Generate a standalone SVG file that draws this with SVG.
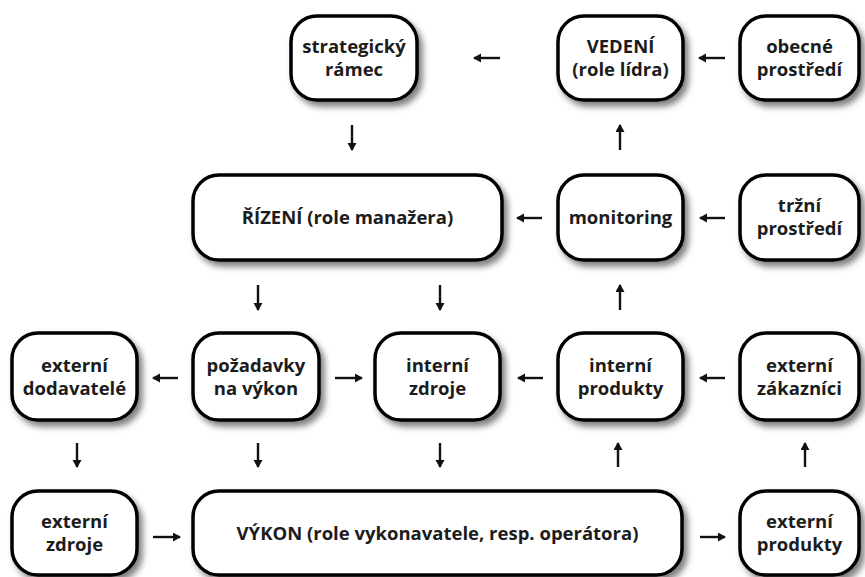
<svg xmlns="http://www.w3.org/2000/svg" width="865" height="577" viewBox="0 0 865 577">
<defs>
<filter id="sh" x="-20%" y="-20%" width="140%" height="150%">
<feDropShadow dx="4" dy="5" stdDeviation="3" flood-color="#000" flood-opacity="0.5"/>
</filter>
<marker id="ah" markerWidth="10" markerHeight="10" refX="7" refY="4.5" orient="auto" markerUnits="userSpaceOnUse">
<path d="M0,0 L8,4.5 L0,9 Z" fill="#111"/>
</marker>
</defs>
<style>
.box{fill:#fff;stroke:#000;stroke-width:3.5;filter:url(#sh)}
.t{font-family:"Open Sans","Noto Sans",sans-serif;font-weight:700;font-size:18.5px;fill:#1c1c1c;text-anchor:middle}
.c line{stroke:#111;stroke-width:2.4;marker-end:url(#ah)}
</style>
<rect width="865" height="577" fill="#fff"/>

<g id="strategicky-ramec"><rect class="box" x="291" y="16" width="126" height="84" rx="26"/><text class="t" x="354" y="52.5">strategický</text><text class="t" x="354" y="75.5">rámec</text></g>
<g id="vedeni"><rect class="box" x="558" y="16" width="125" height="84" rx="26"/><text class="t" x="620.5" y="52.5">VEDENÍ</text><text class="t" x="620.5" y="75.5">(role lídra)</text></g>
<g id="obecne-prostredi"><rect class="box" x="740" y="16" width="119" height="84" rx="26"/><text class="t" x="799.5" y="52.5">obecné</text><text class="t" x="799.5" y="75.5">prostředí</text></g>

<g id="rizeni"><rect class="box" x="193" y="175" width="309" height="85" rx="26"/><text class="t" x="347.5" y="224">ŘÍZENÍ (role manažera)</text></g>
<g id="monitoring"><rect class="box" x="558" y="175" width="125" height="85" rx="26"/><text class="t" x="620.5" y="224">monitoring</text></g>
<g id="trzni-prostredi"><rect class="box" x="740" y="175" width="119" height="85" rx="26"/><text class="t" x="799.5" y="212">tržní</text><text class="t" x="799.5" y="235">prostředí</text></g>

<g id="externi-dodavatele"><rect class="box" x="12" y="333" width="125" height="87" rx="26"/><text class="t" x="74.5" y="371.5">externí</text><text class="t" x="74.5" y="394.5">dodavatelé</text></g>
<g id="pozadavky-na-vykon"><rect class="box" x="193" y="333" width="126" height="87" rx="26"/><text class="t" x="256" y="371.5">požadavky</text><text class="t" x="256" y="394.5">na výkon</text></g>
<g id="interni-zdroje"><rect class="box" x="375" y="333" width="125" height="87" rx="26"/><text class="t" x="437.5" y="371.5">interní</text><text class="t" x="437.5" y="394.5">zdroje</text></g>
<g id="interni-produkty"><rect class="box" x="558" y="333" width="125" height="87" rx="26"/><text class="t" x="620.5" y="371.5">interní</text><text class="t" x="620.5" y="394.5">produkty</text></g>
<g id="externi-zakaznici"><rect class="box" x="740" y="333" width="119" height="87" rx="26"/><text class="t" x="799.5" y="371.5">externí</text><text class="t" x="799.5" y="394.5">zákazníci</text></g>

<g id="externi-zdroje"><rect class="box" x="12" y="491" width="125" height="84" rx="26"/><text class="t" x="74.5" y="528">externí</text><text class="t" x="74.5" y="551">zdroje</text></g>
<g id="vykon"><rect class="box" x="193" y="491" width="489" height="84" rx="26"/><text class="t" x="437.5" y="540">VÝKON (role vykonavatele, resp. operátora)</text></g>
<g id="externi-produkty"><rect class="box" x="740" y="491" width="119" height="84" rx="26"/><text class="t" x="799.5" y="528">externí</text><text class="t" x="799.5" y="551">produkty</text></g>

<g id="connectors" class="c">
<line x1="500" y1="58" x2="474" y2="58"/>
<line x1="725" y1="58" x2="699" y2="58"/>
<line x1="352" y1="125" x2="352" y2="150"/>
<line x1="620" y1="150" x2="620" y2="125"/>
<line x1="542" y1="218" x2="517" y2="218"/>
<line x1="725" y1="218" x2="700" y2="218"/>
<line x1="258" y1="285" x2="258" y2="310"/>
<line x1="440" y1="285" x2="440" y2="310"/>
<line x1="620" y1="310" x2="620" y2="285"/>
<line x1="178" y1="378" x2="153" y2="378"/>
<line x1="335" y1="378" x2="362" y2="378"/>
<line x1="543" y1="378" x2="518" y2="378"/>
<line x1="725" y1="378" x2="700" y2="378"/>
<line x1="77" y1="443" x2="77" y2="467"/>
<line x1="258" y1="443" x2="258" y2="467"/>
<line x1="440" y1="443" x2="440" y2="467"/>
<line x1="618" y1="467" x2="618" y2="443"/>
<line x1="805" y1="467" x2="805" y2="443"/>
<line x1="153" y1="537" x2="180" y2="537"/>
<line x1="700" y1="537" x2="725" y2="537"/>
</g>
</svg>
